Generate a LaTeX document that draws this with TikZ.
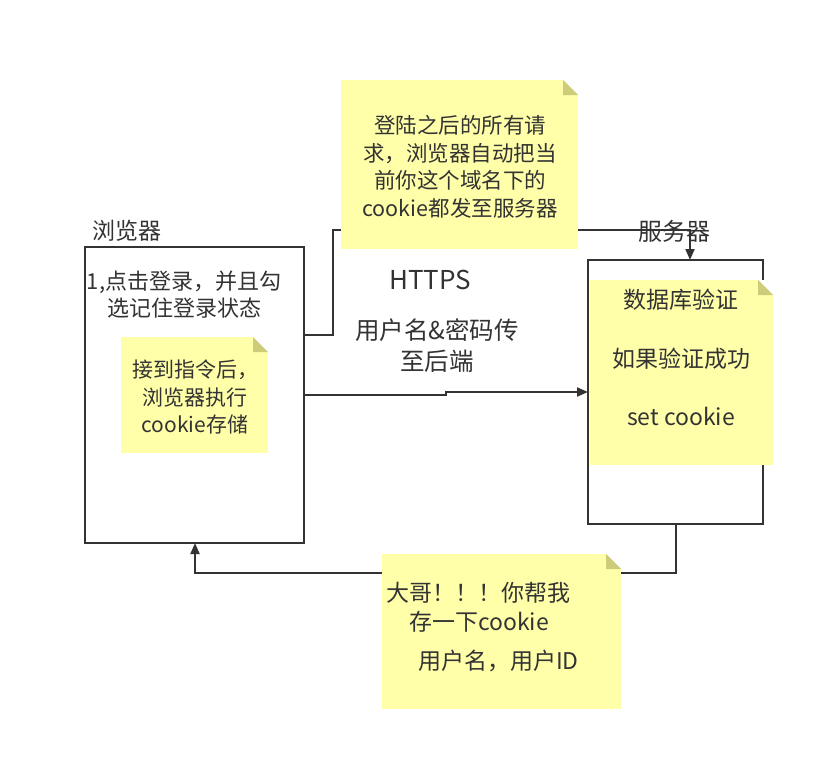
\documentclass[tikz,border=0pt]{standalone}
\usepackage{fontspec}
\setmainfont{Noto Sans CJK SC}
\usetikzlibrary{arrows.meta,calc}
\definecolor{ink}{HTML}{333333}
\definecolor{notefill}{HTML}{FFFFAA}
\definecolor{notefold}{HTML}{CCCC7A}
\begin{document}
\begin{tikzpicture}[x=1pt,y=-1pt,
  every node/.style={text=ink, inner sep=0pt, outer sep=0pt},
  panel/.style={draw=ink, line width=2pt, anchor=north west},
  conn/.style={draw=ink, line width=2pt},
  tip/.style={-{Triangle[length=11pt,width=9pt]}},
  note/.style={anchor=north west, fill=notefill, path picture={
    \fill[white] ([xshift=-15pt]path picture bounding box.north east)
      -- ([xshift=1pt,yshift=1pt]path picture bounding box.north east)
      -- ([yshift=-15pt]path picture bounding box.north east) -- cycle;
    \fill[notefold] ([xshift=-15pt]path picture bounding box.north east)
      -- ([xshift=-15pt,yshift=-15pt]path picture bounding box.north east)
      -- ([yshift=-15pt]path picture bounding box.north east) -- cycle;
  }},
  lbl/.style={font=\fontsize{23}{28}\selectfont},
  txt/.style={font=\fontsize{21}{27.5}\selectfont, align=center},
  big/.style={font=\fontsize{23}{30}\selectfont, align=center}
]
% canvas
\fill[white] (0,0) rectangle (835,771);
\path[use as bounding box] (0,0) rectangle (835,771);

% browser and server panels
\node[panel, minimum width=219pt, minimum height=296pt] (b) at (85,247) {};
\node[panel, minimum width=175pt, minimum height=264pt] (s) at (588,260) {};
\node[lbl] (blabel) at (127,231) {浏览器};
\node[lbl, font=\fontsize{24}{28}\selectfont] (slabel) at (674,231) {服务器};

% connectors
\draw[conn, tip] ($(b.north east)+(0,88)$) -| (333,230) -| ($(s.north west)+(102,0)$);
\draw[conn, tip] ($(b.north east)+(0,148)$) -- (446,395) -- (446,392) -- ($(s.north west)+(0,132)$);
\draw[conn, tip] ($(s.south west)+(88,0)$) |- ($(b.south west)+(110,30)$) -- ($(b.south west)+(110,0)$);

% sticky notes
\node[note, minimum width=147pt, minimum height=116pt] (bnote) at (121,337) {};
\node[note, minimum width=237pt, minimum height=169pt] (tnote) at (341,80) {};
\node[note, minimum width=183pt, minimum height=185pt] (snote) at (590,280) {};
\node[note, minimum width=239pt, minimum height=155pt] (rnote) at (382,554) {};

% texts
\node[txt, font=\fontsize{22}{27}\selectfont] (btext) at (184,295) {1,点击登录，并且勾\\选记住登录状态};
\node[txt] (bnotetext) at (195,397) {接到指令后，\\浏览器执行\\cookie存储};
\node[txt, font=\fontsize{21.5}{27.5}\selectfont] (tnotetext) at (460,167) {登陆之后的所有请\\求，浏览器自动把当\\前你这个域名下的\\cookie都发至服务器};
\node[font=\fontsize{26}{30}\selectfont] (https) at (430,280) {HTTPS};
\node[big, font=\fontsize{24.5}{31}\selectfont] (cred) at (437,346) {用户名\&密码传\\至后端};
\node[big] (s1) at (681,300) {数据库验证};
\node[big] (s2) at (681,359) {如果验证成功};
\node[big] (s3) at (681,416) {set cookie};
\node[big, anchor=west] (r1) at (386,593) {大哥！！！你帮我};
\node[big, anchor=west] (r2) at (409,622) {存一下cookie};
\node[big, anchor=west] (r3) at (418,661) {用户名，用户ID};
\end{tikzpicture}
\end{document}
